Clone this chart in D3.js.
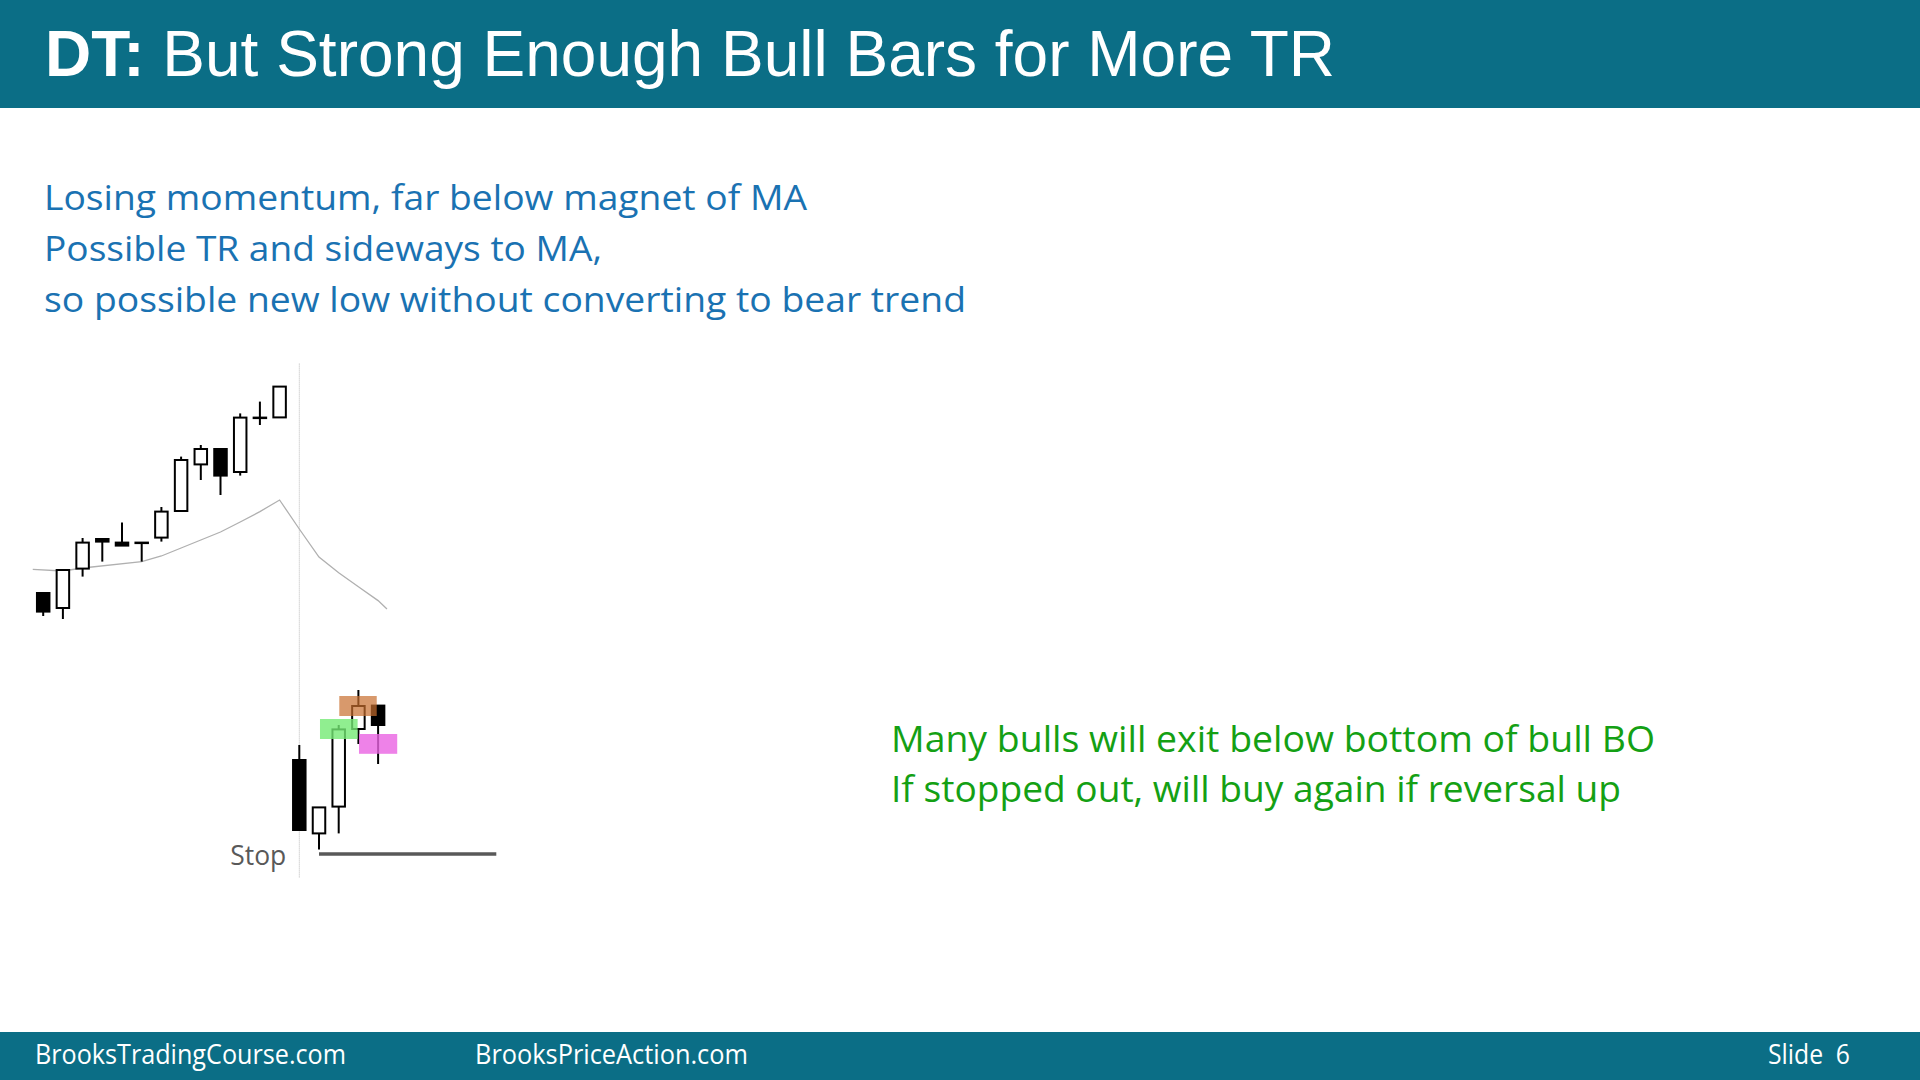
<!DOCTYPE html>
<html>
<head>
<meta charset="utf-8">
<script src="https://cdn.jsdelivr.net/npm/d3@7"></script>
<style>
html,body{margin:0;padding:0;background:#fff;}
svg{display:block;}
</style>
</head>
<body>
<svg id="chart" width="1920" height="1080"></svg>
<script>
// ---- data ----
const barIndex = [0,1,2,3,4,5,6,7,8,9,10,11,12,13,14,15,16,17];
const opens  = [143.5,136,155.7,170.5,168.7,168.7,171.2,184.5,207.8,215.5,204,231.2,231.3,60,23.3,36.7,75.5,87.2];
const highs  = [143.5,155,171,170.5,178.7,168.7,186.5,211.7,217.5,215.5,233.3,239.2,246.7,67.5,36.3,77.5,95,87.2];
const lows   = [132,130.5,151.7,159.2,167.2,159.2,169.2,184.5,200,192.5,202.2,227.5,231.3,25,15.3,23.3,68,58];
const closes = [134.2,155,168.7,169.2,167.2,168.7,184.2,210,215.5,202.2,231.2,231.2,246.7,25,36.3,75.3,87,77.5];

const maIndex = [-0.53,1,2,5,6,7,8,9,10,11,12,13,14,15,16,17,17.45];
const maValue = [155.3,154.5,156,159.2,162,166,170,174,179,184.2,190,175.5,161.5,153.6,146.6,139.7,135.5];

const zones = [
  {name:"orange", x0:15.03, x1:16.93, lo:82, hi:92},
  {name:"green",  x0:14.05, x1:15.96, lo:70.5, hi:80.5},
  {name:"pink",   x0:16.03, x1:17.97, lo:63.1, hi:73}
];
const stopLevel = 13, stopFrom = 14, stopTo = 23;
const dividerIndex = 13, dividerTop = 258.2, dividerBottom = 1;

const titleBold = "DT:";
const titleRest = " But Strong Enough Bull Bars for More TR";
const blueLines = ["Losing momentum, far below magnet of MA","Possible TR and sideways to MA,","so possible new low without converting to bear trend"];
const greenLines = ["Many bulls will exit below bottom of bull BO","If stopped out, will buy again if reversal up"];
const footerTexts = ["BrooksTradingCourse.com","BrooksPriceAction.com","Slide  6"];

// ---- styles ----
const teal = "#0b6e86";
const svg = d3.select("#chart");

// header
svg.append("rect").attr("x",0).attr("y",0).attr("width",1920).attr("height",108).attr("fill",teal);
const t = svg.append("text").attr("x",45).attr("y",76)
  .attr("font-family","'Liberation Sans', Arial, sans-serif").attr("font-size",64).attr("fill","#fff");
t.append("tspan").attr("font-weight","bold").text(titleBold);
t.append("tspan").text(titleRest);

// footer
svg.append("rect").attr("x",0).attr("y",1032).attr("width",1920).attr("height",48).attr("fill",teal);
const footPos = [[35,311],[475,273],[1768,82]];
footerTexts.forEach((s,i)=>{
  svg.append("text").attr("x",footPos[i][0]).attr("y",1064)
    .attr("font-family","'Open Sans', 'Noto Sans', sans-serif").attr("font-size",28)
    .attr("fill","#fff").attr("textLength",footPos[i][1]).attr("lengthAdjust","spacingAndGlyphs")
    .attr("xml:space","preserve").style("white-space","pre").text(s);
});

// blue text
const blueW = [763,558,922];
blueLines.forEach((s,i)=>{
  svg.append("text").attr("x",44).attr("y",210+i*51)
    .attr("font-family","'Open Sans', 'Noto Sans', sans-serif").attr("font-size",35)
    .attr("fill","#1a72b2").attr("textLength",blueW[i]).attr("lengthAdjust","spacingAndGlyphs").text(s);
});
// green text
const greenW = [764,730];
greenLines.forEach((s,i)=>{
  svg.append("text").attr("x",891).attr("y",752+i*50)
    .attr("font-family","'Open Sans', 'Noto Sans', sans-serif").attr("font-size",37)
    .attr("fill","#14a014").attr("textLength",greenW[i]).attr("lengthAdjust","spacingAndGlyphs").text(s);
});

// ---- chart ----
const x = d3.scaleLinear().domain([0,17]).range([43.2,378.1]);
const y = d3.scaleLinear().domain([0,260]).range([880,360]);
const g = svg.append("g");

// divider
g.append("line").attr("x1",x(dividerIndex)).attr("x2",x(dividerIndex))
  .attr("y1",y(dividerTop)).attr("y2",y(dividerBottom))
  .attr("stroke","#b8b8b8").attr("stroke-width",1).attr("stroke-dasharray","1,1");

// MA
g.append("path").datum(maIndex.map((d,i)=>[d,maValue[i]]))
  .attr("d",d3.line().x(d=>x(d[0])).y(d=>y(d[1])))
  .attr("fill","none").attr("stroke","#b0b0b0").attr("stroke-width",1.3);

// stop line
g.append("line").attr("x1",x(stopFrom)).attr("x2",x(stopTo))
  .attr("y1",y(stopLevel)).attr("y2",y(stopLevel))
  .attr("stroke","#595959").attr("stroke-width",3.3);
g.append("text").attr("x",x(dividerIndex)-13).attr("y",y(stopLevel)+11)
  .attr("text-anchor","end").attr("font-family","'Open Sans', 'Noto Sans', sans-serif")
  .attr("font-size",28).attr("fill","#595959").attr("textLength",56).attr("lengthAdjust","spacingAndGlyphs").text("Stop");

// candles
const bodyW = 12.5;
const candles = g.selectAll("g.c").data(barIndex).join("g").attr("class","c");
candles.append("line").attr("x1",i=>x(i)).attr("x2",i=>x(i))
  .attr("y1",i=>y(highs[i])).attr("y2",i=>y(lows[i]))
  .attr("stroke","#000").attr("stroke-width",2);
candles.append("rect")
  .attr("x",i=>x(i)-bodyW/2).attr("width",bodyW)
  .attr("y",i=>y(Math.max(opens[i],closes[i])))
  .attr("height",i=>Math.max(0.5,Math.abs(y(opens[i])-y(closes[i]))))
  .attr("fill",i=>closes[i]>opens[i]?"#fff":"#000")
  .attr("stroke","#000").attr("stroke-width",2);

// zones
const zoneFill = {orange:"rgba(200,110,46,0.7)", green:"rgba(116,234,116,0.8)", pink:"rgba(234,99,226,0.8)"};
g.selectAll("rect.z").data(zones).join("rect").attr("class","z")
  .attr("x",d=>x(d.x0)).attr("width",d=>x(d.x1)-x(d.x0))
  .attr("y",d=>y(d.hi)).attr("height",d=>y(d.lo)-y(d.hi))
  .attr("fill",d=>zoneFill[d.name]);
</script>
</body>
</html>
